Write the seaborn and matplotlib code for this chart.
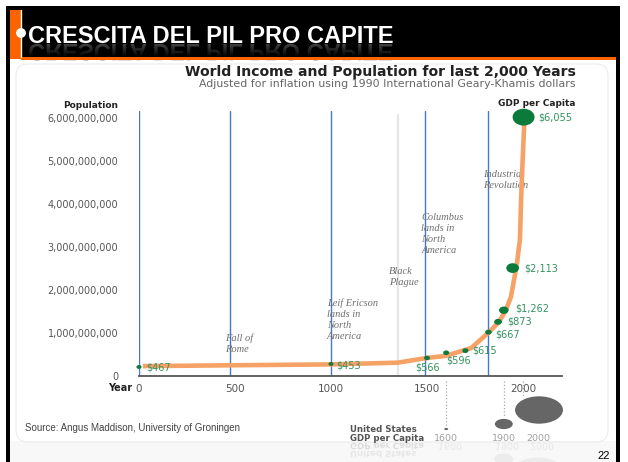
import numpy as np
import matplotlib
matplotlib.use("Agg")
import matplotlib.pyplot as plt
import matplotlib.patches as mpatches
import matplotlib.transforms as mtransforms
from matplotlib.path import Path
from matplotlib.textpath import TextPath
from matplotlib.font_manager import FontProperties
from matplotlib.ticker import FuncFormatter, MultipleLocator
import pandas as pd
import seaborn as sns

# orange population curve (billions)
curve_years = [20, 500, 1000, 1348, 1500, 1600, 1730, 1823, 1875, 1911, 1937, 1953, 1969, 1979, 1984, 1990, 1998, 2008]
curve_pop = [0.23, 0.25, 0.27, 0.31, 0.42, 0.47, 0.65, 1.02, 1.26, 1.53, 1.84, 2.23, 2.63, 3.0, 3.16, 4.1, 5.0, 6.02]

# green GDP per capita dots
gdp_years = [0, 1000, 1500, 1600, 1700, 1820, 1870, 1900, 1946, 2003]
gdp_pop = [0.21, 0.28, 0.42, 0.54, 0.59, 1.02, 1.26, 1.53, 2.51, 6.02]
gdp_values = [467, 453, 566, 596, 615, 667, 873, 1262, 2113, 6055]
gdp_labels = ["$467", "$453", "$566", "$596", "$615", "$667", "$873", "$1,262", "$2,113", "$6,055"]

# historical events
event_years = [476, 1000, 1348, 1492, 1820]
event_labels = ["Fall of\nRome", "Leif Ericson\nlands in\nNorth\nAmerica", "Black\nPlague",
                "Columbus\nlands in\nNorth\nAmerica", "Industrial\nRevolution"]
event_blue = [True, True, False, True, True]

# United States GDP per capita bubbles
us_years = [1600, 1900, 2000]
us_gdp = [400, 4100, 28000]

y_ticks = [0, 1e9, 2e9, 3e9, 4e9, 5e9, 6e9]
x_ticks = [0, 500, 1000, 1500, 2000]

# ---- layout helpers (pixel based) ----
W, H = 628, 462
def px_rect(x0, y0, x1, y1):
    return [x0 / W, 1 - y1 / H, (x1 - x0) / W, (y1 - y0) / H]

sns.set_style("white")
plt.rcParams["font.family"] = ["DejaVu Sans"]

fig = plt.figure(figsize=(6.28, 4.62), dpi=100)

bg = fig.add_axes([0, 0, 1, 1], zorder=0)

def mirror_text(x, y, s, size_pt, color, weight="normal", family="DejaVu Sans", z=2):
    # glyphs flipped downward from the baseline (reflection effect)
    tp = TextPath((0, 0), s, size=size_pt * 100 / 72, prop=FontProperties(family=family, weight=weight))
    tr = mtransforms.Affine2D().translate(x, y) + bg.transData
    bg.add_patch(mpatches.PathPatch(tp, transform=tr, fc=color, ec="none", zorder=z))

orange = "#fb6400"
# slide frame and header bar
bg.add_patch(mpatches.Rectangle((10, 441), 606, 21, color="#f8f8f8", lw=0, zorder=1))
bg.add_patch(mpatches.FancyBboxPatch((16, 64), 592, 378, boxstyle="round,pad=0,rounding_size=12",
                                     ec="#ececec", fc="none", lw=0.8, zorder=1))
bg.add_patch(mpatches.Rectangle((6, 6), 613.5, 51, color="black", lw=0, zorder=1))
bg.add_patch(mpatches.Rectangle((6, 6), 4, 456, color="black", lw=0, zorder=1))
bg.add_patch(mpatches.Rectangle((616, 6), 3.5, 456, color="black", lw=0, zorder=1))

title = "CRESCITA DEL PIL PRO CAPITE"
mirror_text(28, 44, title, 17, "#808080", weight="bold", family="Liberation Sans", z=2)
fade = np.zeros((40, 2, 4))
fade[:, :, 3] = np.linspace(0.35, 1.0, 40)[:, None] ** 0.7
bg.imshow(fade, extent=(22, 616, 57, 44), aspect="auto", zorder=3, interpolation="bilinear")

bg.add_patch(mpatches.Rectangle((10, 9.5), 11, 49, color=orange, lw=0, zorder=4))
bg.add_patch(mpatches.Rectangle((21, 57), 595, 3, color=orange, lw=0, zorder=4))
bg.plot([21, 21], [10, 57], color="white", lw=1, zorder=5)
bg.add_patch(mpatches.Circle((21, 33), 4.2, color="white", zorder=5))
bg.text(28, 43, title, color="white", fontsize=17, fontweight="bold",
        family="Liberation Sans", va="baseline", zorder=5)

bg.text(576, 72, "World Income and Population for last 2,000 Years", ha="right", va="center",
        fontsize=10.1, fontweight="bold", color="#222222")
bg.text(576, 84, "Adjusted for inflation using 1990 International Geary-Khamis dollars", ha="right",
        va="center", fontsize=7.9, color="#666666")
bg.text(118, 106, "Population", ha="right", va="center", fontsize=6.5, fontweight="bold", color="#222222")
bg.text(537, 103, "GDP per Capita", ha="center", va="center", fontsize=6.5, fontweight="bold", color="#222222")
bg.text(132, 388, "Year", ha="right", va="center", fontsize=7, fontweight="bold", color="#222222")
bg.text(25, 428, "Source: Angus Maddison, University of Groningen", va="center", fontsize=7,
        color="#444444", family="Liberation Sans")
bg.text(610, 456, "22", ha="right", va="center", fontsize=8, color="black", family="Liberation Sans")
bg.text(350, 434, "United States\nGDP per Capita", va="center", fontsize=6.2, fontweight="bold",
        color="#555555", linespacing=1.0)

# faint reflection under the US bubble legend
mirror_text(350, 443, "GDP per Capita", 6.2, "#dddddd", weight="bold")
mirror_text(350, 451, "United States", 6.2, "#e6e6e6", weight="bold")
for lx, s in zip([438, 495, 530], ["1600", "1900", "2000"]):
    mirror_text(lx, 443, s, 6.8, "#e6e6e6")
bg.add_patch(mpatches.Ellipse((503.5, 459), 19, 11, color="#ececec", lw=0, zorder=1))
bg.add_patch(mpatches.Ellipse((538, 470), 48, 25, color="#ececec", lw=0, zorder=1))

bg.set_xlim(0, W)
bg.set_ylim(H, 0)
bg.axis("off")

# ---- main chart ----
px_per_year = 0.192
px_per_bn = 43.0
ax = fig.add_axes(px_rect(139, 111, 562, 376), zorder=2)
ax.patch.set_alpha(0)
ax.set_xlim(0, 423 / px_per_year)
ax.set_ylim(0, 265 / px_per_bn * 1e9)

for yr, blue in zip([0] + event_years, [True] + event_blue):
    if blue:
        ax.axvline(yr, color="#4677c8", lw=1.0, zorder=1)
    else:
        ax.axvline(yr, ymax=0.985, color="#e6e6e6", lw=1.6, zorder=1)

curve = pd.DataFrame({"year": curve_years, "pop": [p * 1e9 for p in curve_pop]})
sns.lineplot(data=curve, x="year", y="pop", color="#f6a165", lw=3.3, ax=ax, zorder=3,
             solid_capstyle="butt", solid_joinstyle="round")

circ = Path.unit_circle()
dot_marker = Path(circ.vertices * [1.3, 1.0], circ.codes)
dots = pd.DataFrame({"year": gdp_years, "pop": [p * 1e9 for p in gdp_pop], "gdp": gdp_values})
sns.scatterplot(data=dots, x="year", y="pop", size="gdp", sizes=(13, 250), size_norm=(453, 6055),
                marker=dot_marker, color="#0b7a3b", edgecolor="none", linewidth=0, legend=False,
                ax=ax, zorder=4, clip_on=False)

# green value labels: offsets in pixels from each dot
label_dx = [7, 5, 1, 12, 7, 7, 9, 11, 12, 15]
label_dy = [1, 2, 10, 8, 0, 2, 0, -2, 0, 0]
label_ha = ["left", "left", "center", "center", "left", "left", "left", "left", "left", "left"]
for yr, p, txt, dx, dy, ha in zip(gdp_years, gdp_pop, gdp_labels, label_dx, label_dy, label_ha):
    ax.annotate(txt, (yr, p * 1e9), xytext=(dx * 0.72, -dy * 0.72), textcoords="offset points",
                ha=ha, va="center", fontsize=7, color="#33915f", zorder=5, annotation_clip=False)

# event captions: top of text (billions) and pixel shift left of the line
event_top = [1.0, 1.81, 2.53, 3.79, 4.79]
event_dx = [-5, -4, -9, -4, -5]
for yr, txt, top, dx in zip(event_years, event_labels, event_top, event_dx):
    ax.annotate(txt, (yr, top * 1e9), xytext=(dx * 0.72, 0), textcoords="offset points",
                ha="left", va="top", fontsize=7.5, style="italic", family="Liberation Serif",
                color="#6f6f6f", linespacing=1.3, zorder=2)

ax.set_xticks(x_ticks)
ax.xaxis.set_minor_locator(MultipleLocator(100))
ax.set_yticks(y_ticks)
ax.yaxis.set_major_formatter(FuncFormatter(lambda v, pos: f"{v:,.0f}"))
ax.tick_params(axis="y", length=13, width=1, color="#dcdcdc", labelsize=7, labelcolor="#555555", pad=2)
ax.tick_params(axis="x", which="both", direction="out", length=3, width=0.8, color="#888888",
               labelsize=7.5, labelcolor="#555555", pad=3)
ax.set_xlabel("")
ax.set_ylabel("")
for side in ["top", "right", "left"]:
    ax.spines[side].set_visible(False)
ax.spines["bottom"].set_color("#555555")
ax.spines["bottom"].set_linewidth(1.3)

# ---- US bubbles below the axis ----
us = fig.add_axes(px_rect(139, 376, 562, 446), zorder=2)
us.patch.set_alpha(0)
us.set_xlim(0, 423 / px_per_year)
us.set_ylim(446, 376)
us.axis("off")
stem_end = [426, 416, 397]
bubble_y = [429, 424, 410]
bubble_shift = [0, 0, 16]
label_x = [1600, 1900, 2000 + 15 / px_per_year]
us.vlines(us_years, 381, stem_end, color="#a8a8a8", lw=0.9, linestyles=":")
bubble_marker = Path(circ.vertices * [1.75, 1.0], circ.codes)
bubbles = pd.DataFrame({"x": [y + s / px_per_year for y, s in zip(us_years, bubble_shift)],
                        "y": bubble_y, "gdp": us_gdp})
sns.scatterplot(data=bubbles, x="x", y="y", size="gdp", sizes=(8, 1190), size_norm=(400, 28000),
                marker=bubble_marker, color="#666666", edgecolor="none", linewidth=0, legend=False,
                ax=us, clip_on=False)
us.set_xlabel("")
us.set_ylabel("")
for yr, lx in zip(us_years, label_x):
    us.text(lx, 438, str(yr), ha="center", va="center", fontsize=6.8, color="#a0a0a0")

fig.savefig("out.png", dpi=100)
